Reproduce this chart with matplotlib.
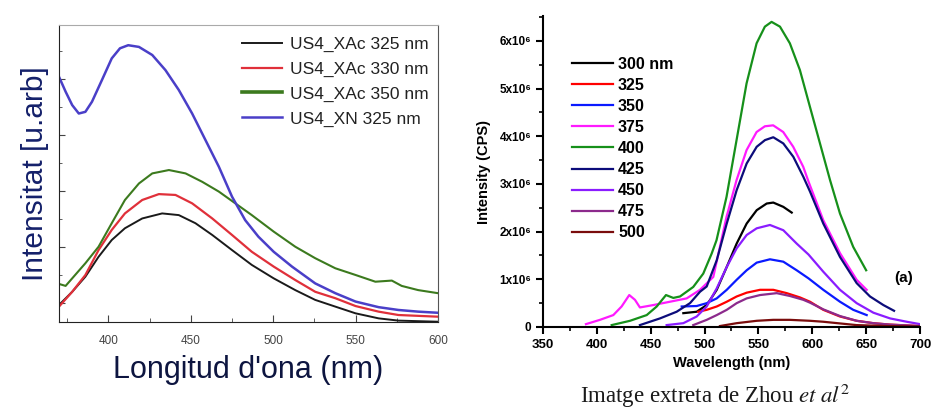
import numpy as np
import matplotlib
matplotlib.use("Agg")
import matplotlib.pyplot as plt
from matplotlib.ticker import MultipleLocator, FuncFormatter

plt.rcParams['font.family'] = ['Liberation Sans', 'DejaVu Sans']
plt.rcParams['mathtext.fontset'] = 'stix'

# ------------------------------------------------------------
# Panell esquerre: espectres propis (unitats arbitràries)
# ------------------------------------------------------------
x_xn325 = [370, 374, 378, 382, 386, 390, 396, 402, 407, 412, 418.5, 426.6, 434.6, 442.7,
           450.8, 458.9, 467, 475, 483, 491, 500.3, 511.4, 525.5, 537.7, 550, 564, 576,
           588, 600]
y_xn325 = [8.08, 7.55, 7.07, 6.77, 6.83, 7.19, 7.96, 8.74, 9.10, 9.21, 9.15, 8.86, 8.32,
           7.61, 6.77, 5.82, 4.87, 3.80, 2.96, 2.37, 1.83, 1.30, 0.70, 0.35, 0.05, -0.15,
           -0.25, -0.31, -0.35]

x_xac350 = [370, 374, 378, 386, 394, 402, 410, 418.5, 426.6, 436.7, 446.8, 456.9, 467, 477,
            487, 500.3, 513.4, 525.5, 537.7, 550, 562, 572, 578, 588, 600]
y_xac350 = [0.68, 0.61, 0.88, 1.42, 2.01, 2.85, 3.68, 4.27, 4.63, 4.75, 4.63, 4.33, 3.98,
            3.56, 3.14, 2.55, 2.01, 1.60, 1.24, 1.00, 0.76, 0.80, 0.61, 0.46, 0.35]

x_xac330 = [370, 378, 386, 394, 402, 410, 420.5, 430.6, 440.7, 450.8, 463, 475, 487, 500.3,
            513.4, 525.5, 537.7, 550, 564, 576, 588, 600]
y_xac330 = [-0.13, 0.40, 1.00, 1.89, 2.61, 3.20, 3.68, 3.89, 3.86, 3.56, 3.02, 2.43, 1.83,
            1.30, 0.82, 0.40, 0.17, -0.11, -0.31, -0.43, -0.46, -0.49]

x_xac325 = [370, 378, 386, 394, 402, 410, 420.5, 432.6, 442.7, 452.8, 463, 475, 487, 500.3,
            513.4, 525.5, 537.7, 550, 564, 576, 600]
y_xac325 = [-0.07, 0.40, 0.94, 1.65, 2.25, 2.67, 3.02, 3.20, 3.14, 2.85, 2.43, 1.89, 1.36,
            0.88, 0.46, 0.11, -0.13, -0.37, -0.55, -0.63, -0.67]

# ------------------------------------------------------------
# Panell dret: Zhou et al (intensitat en unitats de 1e6 CPS)
# ------------------------------------------------------------
x_300 = [480.3, 492.7, 502, 511.3, 520.6, 529.8, 539.1, 548.4, 557.7, 563.8, 573.1, 580.9]
y_300 = [0.29, 0.32, 0.46, 0.78, 1.26, 1.75, 2.17, 2.45, 2.59, 2.61, 2.52, 2.40]

x_325 = [494.2, 502, 511.3, 520.6, 529.8, 539.1, 551.5, 563.8, 576.3, 588.6, 597.9, 610.2,
         625.7, 641.2, 656.7, 672.2, 700]
y_325 = [0.32, 0.36, 0.43, 0.53, 0.64, 0.72, 0.78, 0.78, 0.71, 0.62, 0.53, 0.36, 0.22,
         0.13, 0.08, 0.05, 0.02]

x_350 = [478.8, 492.7, 502, 511.3, 520.6, 529.8, 539.1, 548.4, 560.7, 573.1, 585.5, 596.5,
         610.2, 625.7, 638, 650.5]
y_350 = [0.43, 0.44, 0.50, 0.60, 0.78, 0.99, 1.19, 1.35, 1.42, 1.37, 1.19, 1.02, 0.78,
         0.53, 0.36, 0.25]

x_375 = [389.9, 402.9, 415.3, 423, 430.1, 435.4, 440, 452.4, 467.9, 483.4, 495.8, 508.1,
         520.4, 529.7, 539, 548.3, 556, 563.7, 573, 582.3, 591.6, 596.5, 610.2, 625.7,
         641.2, 650.5]
y_375 = [0.06, 0.15, 0.25, 0.43, 0.67, 0.57, 0.41, 0.46, 0.53, 0.60, 0.78, 1.05, 2.31,
         3.08, 3.71, 4.09, 4.21, 4.23, 4.09, 3.78, 3.36, 3.05, 2.24, 1.55, 0.99, 0.78]

x_400 = [413.8, 430.8, 446.3, 455.6, 464.2, 471, 477.2, 489.5, 498.8, 506.6, 511.1, 520.4,
         529.7, 539, 548.3, 556, 562.2, 570, 579.2, 588.5, 597.8, 616.5, 625.7, 638, 650]
y_400 = [0.04, 0.13, 0.25, 0.43, 0.67, 0.61, 0.64, 0.84, 1.12, 1.54, 1.82, 2.73, 3.92,
         5.11, 5.95, 6.30, 6.40, 6.30, 5.95, 5.39, 4.62, 3.08, 2.38, 1.68, 1.19]

x_425 = [440, 458.6, 474.1, 486.5, 495.8, 502, 511.3, 520.6, 529.8, 539.1, 548.4, 556.1,
         563.8, 573.1, 582.4, 591.7, 597.9, 610.2, 625.7, 641.2, 653.6, 666, 675.9]
y_425 = [0.04, 0.18, 0.32, 0.50, 0.74, 0.85, 1.40, 2.17, 2.87, 3.43, 3.78, 3.92, 3.98,
         3.85, 3.57, 3.15, 2.84, 2.17, 1.47, 0.92, 0.64, 0.46, 0.34]

x_450 = [464.8, 480.3, 492.7, 502, 511.3, 520.6, 529.8, 539.1, 548.4, 560.7, 573.1, 585.5,
         596.5, 610.2, 625.7, 641.2, 656.7, 672.2, 687.7, 700]
y_450 = [0.04, 0.08, 0.22, 0.43, 0.81, 1.26, 1.65, 1.93, 2.07, 2.14, 2.03, 1.75, 1.52,
         1.16, 0.78, 0.50, 0.30, 0.18, 0.11, 0.06]

x_475 = [489.5, 502, 511.3, 520.6, 529.8, 539.1, 551.5, 567, 579.3, 591.7, 597.9, 610.2,
         625.7, 641.2, 656.7, 672.2, 700]
y_475 = [0.04, 0.15, 0.25, 0.36, 0.50, 0.60, 0.67, 0.71, 0.65, 0.57, 0.51, 0.37, 0.23,
         0.13, 0.08, 0.05, 0.02]

x_500 = [514.3, 529.8, 548.4, 563.8, 579.2, 597.9, 610.2, 641, 670, 700]
y_500 = [0.02, 0.08, 0.13, 0.15, 0.15, 0.13, 0.11, 0.04, 0.02, 0.01]

fig = plt.figure(figsize=(9.31, 4.09), dpi=100)

# ===================== PANELL ESQUERRE =====================
ax1 = fig.add_axes([0.0634, 0.2127, 0.407, 0.726])
ax1.plot(x_xac325, y_xac325, color='#1a1a1a', lw=1.4, label='US4_XAc 325 nm')
ax1.plot(x_xac330, y_xac330, color='#e0303a', lw=1.6, label='US4_XAc 330 nm')
ax1.plot(x_xac350, y_xac350, color='#3c7a1e', lw=1.5, label='US4_XAc 350 nm')
ax1.plot(x_xn325, y_xn325, color='#4a3fc8', lw=1.8, label='US4_XN 325 nm')

ax1.set_xlim(370, 600)
ax1.set_ylim(-0.68, 9.93)
ax1.xaxis.set_major_locator(MultipleLocator(50))
ax1.xaxis.set_minor_locator(MultipleLocator(25))
ax1.yaxis.set_major_locator(MultipleLocator(2))
ax1.yaxis.set_minor_locator(MultipleLocator(1))
ax1.tick_params(axis='both', which='both', direction='in', top=False, right=False,
                colors='#444444')
ax1.tick_params(axis='x', which='major', length=5, pad=9, labelsize=8.5,
                labelcolor='#444444')
ax1.tick_params(axis='x', which='minor', length=3)
ax1.tick_params(axis='y', which='major', length=4, labelleft=False)
ax1.tick_params(axis='y', which='minor', length=2)
ax1.spines['top'].set_color('#aaaaaa')
ax1.spines['right'].set_color('#555555')
ax1.spines['left'].set_color('#222222')
ax1.spines['bottom'].set_color('#222222')

ax1.set_xlabel("Longitud d'ona (nm)", fontsize=22, color='#0d1540', labelpad=6)
ax1.set_ylabel("Intensitat [u.arb]", fontsize=21.5, color='#14206a', labelpad=4)

leg1 = ax1.legend(loc='upper left', bbox_to_anchor=(0.46, 0.99), frameon=False,
                  fontsize=12.5, handlelength=2.3, handletextpad=0.45,
                  labelspacing=0.55, borderpad=0)
for t in leg1.get_texts():
    t.set_color('#222222')
leg1.get_lines()[2].set_linewidth(2.6)

# ===================== PANELL DRET =====================
ax2 = fig.add_axes([0.5832, 0.2005, 0.405, 0.760])
series = [
    (x_300, y_300, '#000000', '300 nm'),
    (x_325, y_325, '#ff0000', '325'),
    (x_350, y_350, '#0a1aff', '350'),
    (x_375, y_375, '#ff1aff', '375'),
    (x_400, y_400, '#16901a', '400'),
    (x_425, y_425, '#0c0c7a', '425'),
    (x_450, y_450, '#8a1cff', '450'),
    (x_475, y_475, '#8c2a8c', '475'),
    (x_500, y_500, '#7a0c0c', '500'),
]
for xs, ys, c, lab in series:
    ax2.plot(xs, ys, color=c, lw=1.6, label=lab)

ax2.set_xlim(350, 700)
ax2.set_ylim(0, 6.52)
ax2.spines['top'].set_visible(False)
ax2.spines['right'].set_visible(False)
ax2.spines['left'].set_linewidth(1.5)
ax2.spines['bottom'].set_linewidth(1.5)
ax2.xaxis.set_major_locator(MultipleLocator(50))
ax2.xaxis.set_minor_locator(MultipleLocator(25))
ax2.yaxis.set_major_locator(MultipleLocator(1))
ax2.yaxis.set_minor_locator(MultipleLocator(0.5))
ax2.tick_params(axis='both', which='major', direction='out', length=5, width=1.5)
ax2.tick_params(axis='both', which='minor', direction='out', length=3, width=1.2)
ax2.yaxis.set_major_formatter(FuncFormatter(
    lambda v, p: '0' if v == 0 else f'{int(round(v))}x10\u2076'))
for lbl in ax2.get_xticklabels() + ax2.get_yticklabels():
    lbl.set_fontweight('bold')
ax2.tick_params(axis='x', labelsize=9.5)
ax2.tick_params(axis='y', labelsize=8.5)

ax2.set_xlabel('Wavelength (nm)', fontsize=10.5, fontweight='bold', labelpad=4)
ax2.set_ylabel('Intensity (CPS)', fontsize=10.5, fontweight='bold', labelpad=6)
ax2.text(685, 1.03, '(a)', fontsize=11, fontweight='bold', ha='center', va='center')

leg2 = ax2.legend(loc='upper left', bbox_to_anchor=(0.055, 0.895), frameon=False,
                  prop={'weight': 'bold', 'size': 11.5}, handlelength=2.6,
                  handletextpad=0.3, labelspacing=0.38, borderpad=0)

fig.text(0.768, 0.033, r'Imatge extreta de Zhou $\mathit{et\ al}^{2}$',
         fontsize=16.5, family='Liberation Serif', color='#1a1a1a',
         ha='center', va='center')

fig.savefig('out.png', dpi=100)
